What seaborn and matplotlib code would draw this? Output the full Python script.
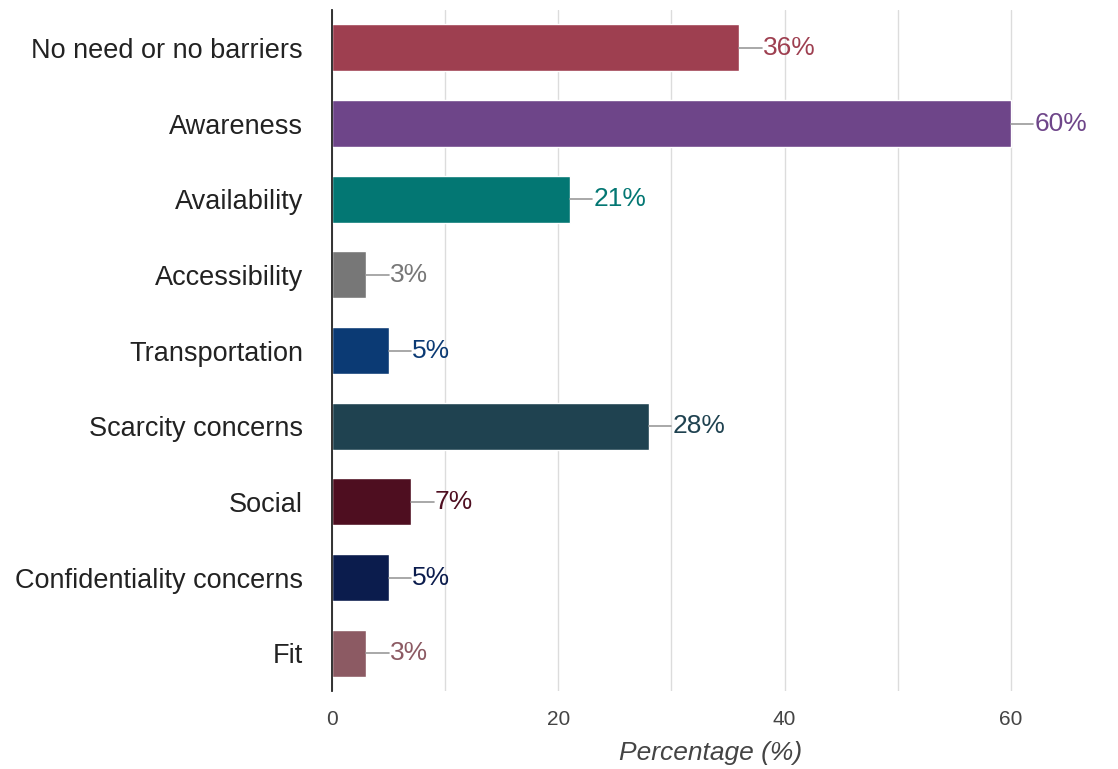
import matplotlib
matplotlib.use("Agg")
import matplotlib.pyplot as plt
import seaborn as sns
import pandas as pd
import numpy as np

categories = ["No need or no barriers", "Awareness", "Availability", "Accessibility",
              "Transportation", "Scarcity concerns", "Social",
              "Confidentiality concerns", "Fit"]
values = [36, 60, 21, 3, 5, 28, 7, 5, 3]
colors = ["#9E3F50", "#6E4589", "#037773", "#777777", "#0B3A74",
          "#1F4250", "#4E0E20", "#0B1C4D", "#8C5A63"]
value_labels = [f"{v}%" for v in values]
x_ticks = [0, 20, 40, 60]
x_label = "Percentage (%)"

sns.set_theme(style="white")
plt.rcParams['font.family'] = ['Liberation Sans', 'DejaVu Sans']

df = pd.DataFrame({"category": categories, "value": values})

fig = plt.figure(figsize=(11.18, 7.69), dpi=100)
ax = fig.add_axes([0.297, 0.1014, 0.678, 0.8856])

sns.barplot(data=df, y="category", x="value", hue="category", palette=colors,
            order=categories, hue_order=categories, orient="h", width=0.62,
            legend=False, ax=ax, saturation=1)

ax.set_xlim(0, 67)
ax.set_ylim(len(categories) - 0.5, -0.5)
ax.set_xticks(x_ticks)
ax.set_xticks([10, 30, 50], minor=True)
ax.grid(axis="x", which="both", color="#dcdcdc", linewidth=1.0)
ax.set_axisbelow(True)

for i, (v, lab, c) in enumerate(zip(values, value_labels, colors)):
    ax.plot([v, v + 2.0], [i, i], color="#9a9a9a", linewidth=1.2, zorder=3)
    ax.text(v + 2.1, i, lab, color=c, fontsize=19, va="center", ha="left")

for s in ["top", "right", "bottom"]:
    ax.spines[s].set_visible(False)
ax.spines["left"].set_color("#222222")
ax.spines["left"].set_linewidth(1.3)

ax.set_ylabel("")
ax.set_xlabel(x_label, fontsize=19, style="italic", color="#444444", labelpad=8)
ax.tick_params(axis="y", length=0, pad=21, labelsize=19.5, labelcolor="#222222")
ax.tick_params(axis="x", which="both", length=0, pad=14, labelsize=15, labelcolor="#444444")

fig.savefig("out.png", dpi=100)
